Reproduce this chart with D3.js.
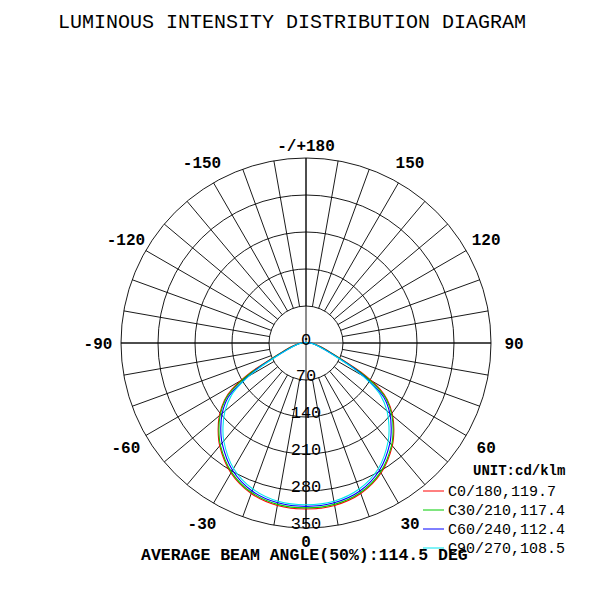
<!DOCTYPE html>
<html><head><meta charset="utf-8">
<script src="https://cdn.jsdelivr.net/npm/d3@7"></script>
<style>body{margin:0;background:#fff}text{font-family:"Liberation Mono","Courier New",monospace;fill:#000}</style>
</head><body><svg id="c" width="603" height="589"></svg>
<script>
var gammas = [0, 10, 20, 30, 40, 45, 50, 55, 58, 62, 65, 70, 75, 80, 85, 90, 95, 100, 110, 120, 180];
var seriesNames = ["C0/180,119.7", "C30/210,117.4", "C60/240,112.4", "C90/270,108.5"];
var seriesColors = ["#ff0000", "#00cc00", "#0000ff", "#00e5ee"];
var seriesValues = [
  [314, 312, 303, 284, 254, 235, 214, 188, 165, 118, 78, 45, 30, 20, 14, 10, 7, 4, 2, 0, 0],
  [312, 310, 301, 282, 252, 233, 212, 186, 160, 112, 74, 43, 28, 19, 13, 9, 6, 4, 2, 0, 0],
  [309, 307, 298, 278, 247, 228, 207, 180, 150, 105, 70, 40, 26, 18, 12, 8, 6, 3, 1, 0, 0],
  [306, 304, 294, 274, 242, 222, 200, 172, 145, 100, 66, 38, 25, 17, 11, 8, 5, 3, 1, 0, 0]
];
var ringValues = [70, 140, 210, 280, 350];
var angleLabels = [[180, "-/+180"], [150, "150"], [120, "120"], [90, "90"], [60, "60"], [30, "30"], [0, "0"],
  [-30, "-30"], [-60, "-60"], [-90, "-90"], [-120, "-120"], [-150, "-150"]];

var svg = d3.select("#c"), cx = 306, cy = 343;
var r = d3.scaleLinear().domain([0, 350]).range([0, 185]);
var g = svg.append("g").attr("transform", "translate(" + cx + "," + cy + ")");

// grid
ringValues.forEach(function (v) {
  g.append("circle").attr("r", r(v)).attr("fill", "none").attr("stroke", "#000").attr("stroke-width", 0.9);
});
d3.range(0, 360, 10).forEach(function (a) {
  var t = a * Math.PI / 180;
  g.append("line")
    .attr("x1", r(70) * Math.sin(t)).attr("y1", r(70) * Math.cos(t))
    .attr("x2", r(350) * Math.sin(t)).attr("y2", r(350) * Math.cos(t))
    .attr("stroke", "#000").attr("stroke-width", 0.9);
});
g.append("line").attr("x1", -r(350)).attr("x2", r(350)).attr("stroke", "#000").attr("stroke-width", 0.9);
g.append("line").attr("y1", -r(350)).attr("y2", r(350)).attr("stroke", "#000").attr("stroke-width", 0.9);

// curves
var line = d3.lineRadial().curve(d3.curveCatmullRom)
  .angle(function (d) { return d[0]; }).radius(function (d) { return r(d[1]); });
seriesValues.forEach(function (vals, i) {
  var pts = [];
  for (var k = gammas.length - 1; k >= 0; k--) pts.push([Math.PI + gammas[k] * Math.PI / 180, vals[k]]);
  for (k = 1; k < gammas.length; k++) pts.push([Math.PI - gammas[k] * Math.PI / 180, vals[k]]);
  g.append("path").attr("d", line(pts)).attr("fill", "none").attr("stroke", seriesColors[i]).attr("stroke-width", 1.1);
});

// ring labels
ringValues.forEach(function (v) {
  g.append("text").attr("x", 0).attr("y", r(v) - 5).attr("dy", "0.35em").attr("text-anchor", "middle")
    .style("font-size", "17px").text(v);
});
g.append("text").attr("y", -4).attr("dy", "0.35em").attr("text-anchor", "middle").style("font-size", "17px").text("0");

// angle labels
angleLabels.forEach(function (d) {
  var t = d[0] * Math.PI / 180, rr = d[0] === 0 || Math.abs(d[0]) === 180 ? 198 : 208;
  g.append("text").attr("x", rr * Math.sin(t)).attr("y", rr * Math.cos(t)).attr("dy", "0.35em")
    .attr("text-anchor", "middle").style("font-size", "16px").style("font-weight", "bold").text(d[1]);
});

svg.append("text").attr("x", 292).attr("y", 28).attr("text-anchor", "middle")
  .style("font-size", "20px").text("LUMINOUS INTENSITY DISTRIBUTION DIAGRAM");

// legend
svg.append("text").attr("x", 473).attr("y", 475).style("font-size", "14px").style("font-weight", "bold").text("UNIT:cd/klm");
seriesNames.forEach(function (n, i) {
  var y = 491 + i * 19;
  svg.append("line").attr("x1", 423).attr("x2", 444).attr("y1", y).attr("y2", y).attr("stroke", seriesColors[i]);
  svg.append("text").attr("x", 448).attr("y", y + 5).style("font-size", "15px").text(n);
});
svg.append("text").attr("x", 141).attr("y", 560).style("font-size", "16.5px").style("font-weight", "bold")
  .text("AVERAGE BEAM ANGLE(50%):114.5 DEG");
</script></body></html>
